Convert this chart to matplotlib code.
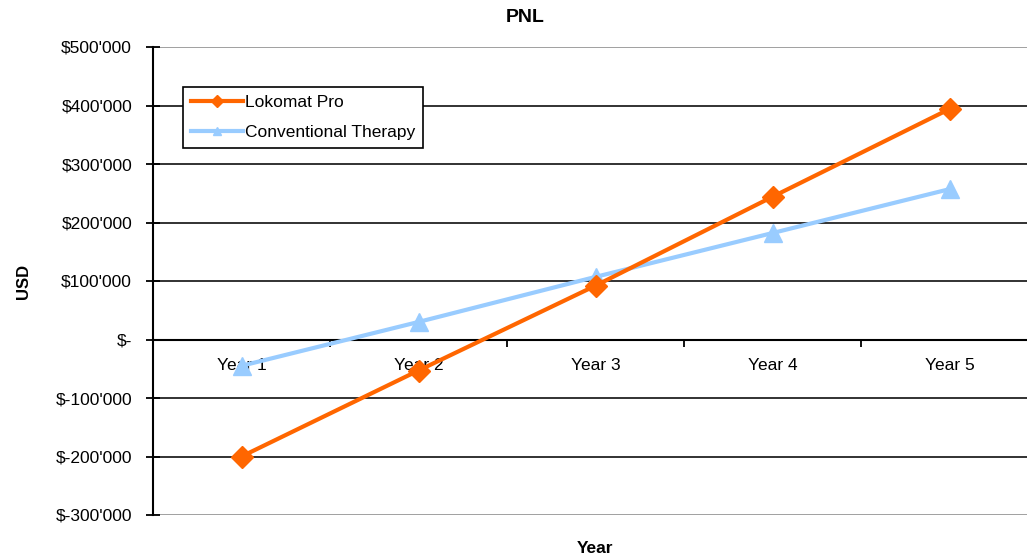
import matplotlib
matplotlib.use('Agg')
import matplotlib.pyplot as plt
import numpy as np

# Chart data
years = ['Year 1', 'Year 2', 'Year 3', 'Year 4', 'Year 5']
lokomat_pro = [-200000, -53000, 92000, 244000, 394000]
conventional = [-45000, 30000, 107000, 182000, 257000]

y_ticks = [-300000, -200000, -100000, 0, 100000, 200000, 300000, 400000, 500000]
y_tick_labels = ["$-300'000", "$-200'000", "$-100'000", "$-", "$100'000",
                 "$200'000", "$300'000", "$400'000", "$500'000"]

plt.rcParams['font.family'] = ['Liberation Sans', 'DejaVu Sans']

fig = plt.figure(figsize=(10.27, 5.58), dpi=100)
ax = fig.add_axes([153 / 1027, 1 - 515 / 558, 885 / 1027, 468 / 558])

x = np.arange(len(years))
ax.plot(x, lokomat_pro, color='#FF6600', lw=3, marker='D', ms=11,
        label='Lokomat Pro', zorder=4)
ax.plot(x, conventional, color='#99CCFF', lw=3, marker='^', ms=13,
        label='Conventional Therapy', zorder=3)

ax.set_xlim(-0.5, len(years) - 0.5)
ax.set_ylim(-300000, 500000)

# horizontal gridlines
ax.set_yticks(y_ticks)
ax.set_yticklabels(y_tick_labels, fontsize=12.5)
ax.yaxis.grid(True, color='#222222', lw=1.3)
grid = ax.yaxis.get_gridlines()
grid[0].set_color('#999999')
grid[-1].set_color('#999999')
ax.set_axisbelow(True)
ax.tick_params(axis='y', direction='inout', length=10, width=1.3, pad=10)

# category axis sits on zero
ax.spines['bottom'].set_position(('data', 0))
ax.spines['bottom'].set_linewidth(1.5)
ax.spines['left'].set_linewidth(1.5)
ax.spines['top'].set_visible(False)
ax.spines['right'].set_visible(False)
ax.set_xticks(x)
ax.set_xticklabels(years, fontsize=12.5)
ax.set_xticks(np.arange(len(years) + 1) - 0.5, minor=True)
ax.tick_params(axis='x', which='major', length=0, pad=13)
ax.tick_params(axis='x', which='minor', direction='out', length=5, width=1.3)

fig.text(525 / 1027, 1 - 18 / 558, 'PNL', ha='center', va='center',
         fontsize=14, fontweight='bold')
ax.set_ylabel('USD', fontsize=12, fontweight='bold', labelpad=18)
ax.text(0.5, -0.055, 'Year', transform=ax.transAxes, ha='center', va='top',
        fontsize=12.5, fontweight='bold')

leg = ax.legend(loc='upper left', bbox_to_anchor=(0.034, 0.914), fontsize=12.5,
                frameon=True, fancybox=False, edgecolor='black', framealpha=1,
                borderpad=0.45, handlelength=3, handletextpad=0.1,
                labelspacing=0.85, borderaxespad=0)
leg.get_frame().set_linewidth(1.2)
for h in leg.legend_handles:
    h.set_markersize(6)

fig.savefig('out.png', dpi=100)
